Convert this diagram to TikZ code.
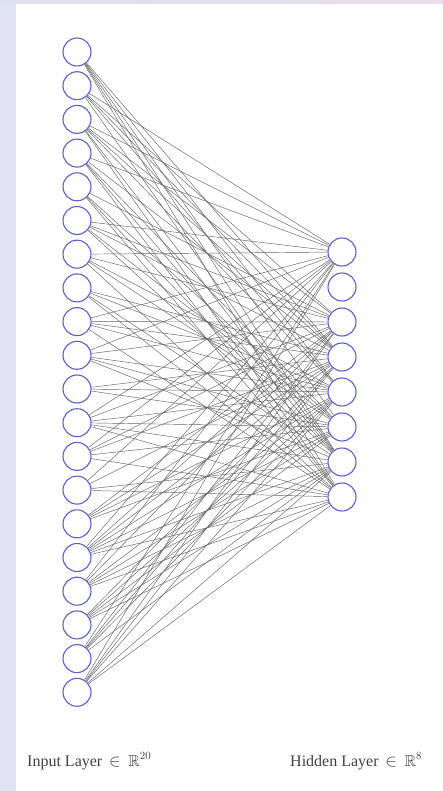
\documentclass[tikz,border=0pt]{standalone}
\usepackage{amssymb}
\usepackage{fontspec}
\setmainfont{Liberation Serif}
\definecolor{nodeblue}{RGB}{92,92,214}
\definecolor{sideblue}{RGB}{223,228,240}
\definecolor{topleft}{RGB}{220,225,240}
\definecolor{topright}{RGB}{236,220,236}
\pgfdeclarelayer{back}
\pgfdeclarelayer{edges}
\pgfsetlayers{back,edges,main}
\begin{document}
\begin{tikzpicture}[x=1pt,y=-1pt,
  neuron/.style={circle, draw=nodeblue, line width=1.1pt, fill=white, minimum size=28pt, inner sep=0pt},
  conn/.style={draw=black!62, line width=0.45pt},
  lbl/.style={text=black!75, font=\fontsize{16}{18}\selectfont, anchor=base west, inner sep=0pt}]
\useasboundingbox (0,0) rectangle (443,791);
\begin{pgfonlayer}{back}
\fill[sideblue] (0,0) rectangle (443,791);
\shade[left color=topleft, right color=topright] (0,0) rectangle (443,4);
\fill[white] (16,4) rectangle (443,791);
\end{pgfonlayer}
\foreach \i in {1,...,20}{
  \node[neuron] (in\i) at (77,{52+(\i-1)*33.7}) {};
}
\foreach \j in {1,...,8}{
  \node[neuron] (hd\j) at (342,{252+(\j-1)*35}) {};
}
\begin{pgfonlayer}{edges}
\foreach \i in {1,...,20}{
  \foreach \j in {1,...,8}{
    \pgfmathtruncatemacro\h{mod(\i*7+\j*\j*3+\i*\j*5,17)}
    \ifnum\h<12
      \draw[conn] (in\i) -- (hd\j);
    \fi
  }
}
\end{pgfonlayer}
\node[lbl] (inlabel) at (27,766) {Input Layer $\,\in\,\mathbb{R}^{20}$};
\node[lbl] (hdlabel) at (290,766) {Hidden Layer $\,\in\,\mathbb{R}^{8}$};
\end{tikzpicture}
\end{document}
